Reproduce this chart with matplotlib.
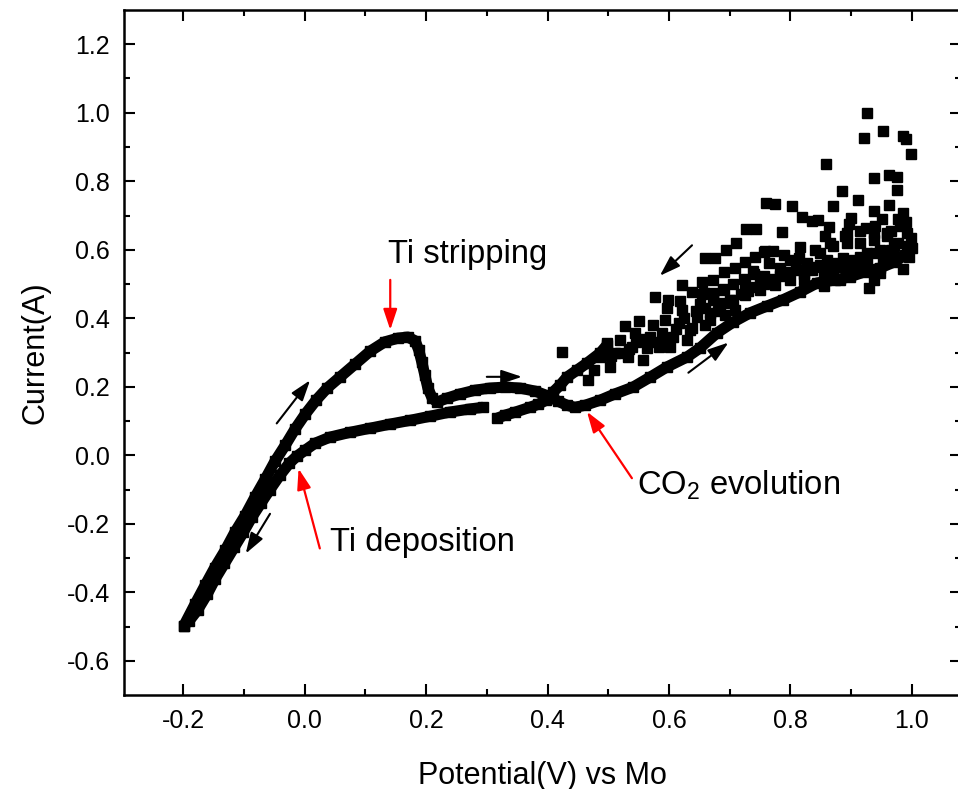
import matplotlib
matplotlib.use("Agg")
import matplotlib.pyplot as plt

plt.rcParams['font.family'] = ['Liberation Sans', 'DejaVu Sans']
plt.rcParams['mathtext.default'] = 'regular'

# first cathodic sweep (lower curve, 0.29 V -> -0.2 V)
cath1_v = [0.294, 0.272, 0.239, 0.207, 0.174, 0.141, 0.108, 0.075, 0.042, 0.017,
           0.001, -0.013, -0.025, -0.041, -0.057, -0.072, -0.087, -0.101, -0.116,
           -0.132, -0.147, -0.160, -0.176, -0.190, -0.199]
cath1_i = [0.140, 0.135, 0.126, 0.114, 0.102, 0.091, 0.079, 0.067, 0.053, 0.035,
           0.015, -0.003, -0.023, -0.059, -0.100, -0.140, -0.181, -0.225, -0.269,
           -0.316, -0.360, -0.404, -0.451, -0.483, -0.498]

# anodic sweep (-0.2 V -> 1.0 V)
anod_v = [-0.199, -0.180, -0.164, -0.148, -0.131, -0.115, -0.098, -0.082, -0.065,
          -0.049, -0.032, -0.016, 0.001, 0.019, 0.037, 0.058, 0.083, 0.108, 0.132,
          0.154, 0.170, 0.182, 0.188, 0.193, 0.198, 0.203, 0.210, 0.218, 0.235,
          0.256, 0.281, 0.305, 0.330, 0.355, 0.380, 0.401, 0.417, 0.432, 0.445,
          0.462, 0.487, 0.511, 0.541, 0.569, 0.597, 0.630, 0.651, 0.679, 0.706,
          0.734, 0.762, 0.788, 0.816, 0.844, 0.874, 0.898, 0.923, 0.948, 0.972,
          0.989, 1.001]
anod_i = [-0.498, -0.433, -0.380, -0.328, -0.278, -0.225, -0.176, -0.123, -0.070,
          -0.018, 0.029, 0.076, 0.120, 0.161, 0.196, 0.228, 0.266, 0.304, 0.331,
          0.342, 0.345, 0.334, 0.307, 0.272, 0.234, 0.196, 0.167, 0.155, 0.167,
          0.179, 0.190, 0.196, 0.199, 0.196, 0.187, 0.173, 0.158, 0.146, 0.140,
          0.146, 0.161, 0.179, 0.199, 0.228, 0.258, 0.287, 0.313, 0.357, 0.389,
          0.416, 0.436, 0.454, 0.477, 0.503, 0.512, 0.521, 0.536, 0.547, 0.565,
          0.585, 0.606]

# tail of the return sweep (0.5 V -> 0.32 V)
cath2_v = [0.498, 0.487, 0.465, 0.449, 0.432, 0.421, 0.409, 0.398, 0.385, 0.371,
           0.347, 0.330, 0.317]
cath2_i = [0.322, 0.299, 0.269, 0.249, 0.228, 0.205, 0.184, 0.161, 0.149, 0.140,
           0.126, 0.117, 0.108]

# noisy return sweep points (1.0 V -> 0.5 V)
noisy_v = [0.498, 0.487, 0.476, 0.466, 0.528, 0.520, 0.511, 0.503, 0.551, 0.544,
           0.539, 0.533, 0.574, 0.569, 0.564, 0.557, 0.597, 0.594, 0.588, 0.583,
           0.621, 0.616, 0.607, 0.602, 0.651, 0.646, 0.638, 0.630, 0.673, 0.668,
           0.660, 0.577, 0.599, 0.618, 0.621, 0.638, 0.654, 0.673, 0.657, 0.673,
           0.690, 0.706, 0.691, 0.709, 0.726, 0.739, 0.660, 0.676, 0.694, 0.710,
           0.742, 0.758, 0.772, 0.727, 0.743, 0.787, 0.760, 0.775, 0.803, 0.819,
           0.835, 0.845, 0.859, 0.871, 0.885, 0.912, 0.926, 0.922, 0.952, 0.986,
           0.990, 0.999, 0.937, 0.963, 0.975, 0.976, 0.963, 0.938, 0.986, 0.900,
           0.897, 0.951, 0.977, 0.863, 0.924, 0.857, 0.894, 0.998, 0.816, 0.757,
           0.800, 0.783, 0.756, 0.723, 0.985, 0.929, 0.689, 0.655, 0.672, 0.981,
           0.992, 0.995, 0.948, 0.937, 0.915, 0.904, 0.887, 0.871, 0.855, 0.838,
           0.849, 0.871, 0.893, 0.915, 0.937, 0.959, 0.970, 0.948, 0.926, 0.904,
           0.882, 0.855, 0.822, 0.827, 0.860, 0.964, 0.975, 0.992, 0.959, 0.937,
           0.701, 0.726, 0.750, 0.775, 0.799, 0.791, 0.816, 0.750, 0.726, 0.684,
           0.709, 0.693, 0.668, 0.635, 0.424,
           0.705, 0.718, 0.731, 0.744, 0.757, 0.770, 0.783, 0.796, 0.809, 0.822,
           0.835, 0.848, 0.861, 0.874, 0.887, 0.900, 0.913, 0.926, 0.939, 0.952,
           0.965, 0.978, 0.740, 0.765, 0.790, 0.815, 0.840, 0.865, 0.890, 0.915,
           0.940, 0.965, 0.990, 0.680, 0.690, 0.660, 0.645, 0.625, 0.612, 0.590,
           0.575, 0.560, 0.545, 0.535, 0.520, 0.505]
noisy_i = [0.327, 0.288, 0.249, 0.219, 0.378, 0.337, 0.298, 0.258, 0.393, 0.356,
           0.317, 0.288, 0.380, 0.346, 0.312, 0.278, 0.429, 0.395, 0.356, 0.317,
           0.424, 0.385, 0.346, 0.317, 0.441, 0.405, 0.371, 0.337, 0.454, 0.415,
           0.380, 0.463, 0.454, 0.451, 0.498, 0.476, 0.507, 0.512, 0.473, 0.470,
           0.485, 0.500, 0.534, 0.548, 0.563, 0.538, 0.577, 0.577, 0.600, 0.620,
           0.580, 0.595, 0.595, 0.661, 0.661, 0.652, 0.737, 0.735, 0.727, 0.696,
           0.683, 0.686, 0.849, 0.727, 0.771, 0.744, 0.998, 0.925, 0.948, 0.932,
           0.922, 0.881, 0.809, 0.819, 0.812, 0.775, 0.732, 0.712, 0.707, 0.693,
           0.676, 0.691, 0.691, 0.665, 0.663, 0.641, 0.649, 0.634, 0.608, 0.594,
           0.571, 0.546, 0.522, 0.515, 0.543, 0.488, 0.483, 0.471, 0.473, 0.668,
           0.610, 0.580, 0.532, 0.512, 0.580, 0.571, 0.551, 0.532, 0.522, 0.551,
           0.590, 0.610, 0.620, 0.620, 0.629, 0.639, 0.610, 0.600, 0.590, 0.551,
           0.512, 0.493, 0.512, 0.561, 0.571, 0.571, 0.580, 0.649, 0.649, 0.649,
           0.454, 0.468, 0.483, 0.498, 0.512, 0.527, 0.541, 0.512, 0.498, 0.439,
           0.424, 0.410, 0.395, 0.366, 0.302,
           0.452, 0.470, 0.480, 0.492, 0.500, 0.515, 0.522, 0.535, 0.545, 0.530,
           0.540, 0.555, 0.545, 0.560, 0.575, 0.560, 0.550, 0.570, 0.590, 0.575,
           0.600, 0.620, 0.530, 0.560, 0.585, 0.575, 0.600, 0.620, 0.640, 0.655,
           0.670, 0.655, 0.680, 0.420, 0.445, 0.430, 0.420, 0.400, 0.370, 0.340,
           0.330, 0.340, 0.330, 0.310, 0.300, 0.290]

# sweep direction arrows: (tail, head)
dir_arrows = [((-0.046, 0.093), (0.009, 0.219)),
              ((-0.057, -0.171), (-0.097, -0.287)),
              ((0.300, 0.229), (0.358, 0.229)),
              ((0.638, 0.613), (0.585, 0.524)),
              ((0.632, 0.241), (0.698, 0.329))]

# labels: text, text position, arrow tail, arrow tip
labels = ["Ti stripping", "Ti deposition", "CO$_2$ evolution"]
label_xy = [(0.137, 0.585), (0.042, -0.255), (0.547, -0.088)]
label_tail = [(0.141, 0.512), (0.025, -0.272), (0.539, -0.067)]
label_tip = [(0.141, 0.366), (-0.010, -0.039), (0.465, 0.127)]


def main():
    fig = plt.figure(figsize=(9.58, 7.89), dpi=100)
    ax = fig.add_axes([124 / 958, 94 / 789, 837 / 958, 685 / 789])

    for v, i in [(cath1_v, cath1_i), (anod_v, anod_i), (cath2_v, cath2_i)]:
        ax.plot(v, i, color='black', lw=8, marker='s', ms=7.5,
                solid_joinstyle='round', solid_capstyle='butt')
    ax.plot(noisy_v, noisy_i, 's', color='black', ms=6.8, linestyle='none')

    for tail, head in dir_arrows:
        ax.annotate('', xy=head, xytext=tail,
                    arrowprops=dict(arrowstyle='-|>,head_length=0.9,head_width=0.3',
                                    color='black', lw=1.5, mutation_scale=14,
                                    shrinkA=0, shrinkB=0))

    for txt, pos, tail, tip in zip(labels, label_xy, label_tail, label_tip):
        ax.text(pos[0], pos[1], txt, fontsize=23.6, ha='left', va='center')
        ax.annotate('', xy=tip, xytext=tail,
                    arrowprops=dict(arrowstyle='-|>,head_length=0.9,head_width=0.3',
                                    color='red', lw=1.6, mutation_scale=14,
                                    shrinkA=0, shrinkB=0))

    ax.set_xlim(-0.2975, 1.081)
    ax.set_ylim(-0.7, 1.3)
    ax.set_xticks([-0.2, 0.0, 0.2, 0.4, 0.6, 0.8, 1.0])
    ax.set_yticks([-0.6, -0.4, -0.2, 0.0, 0.2, 0.4, 0.6, 0.8, 1.0, 1.2])
    ax.set_xticks([-0.1, 0.1, 0.3, 0.5, 0.7, 0.9], minor=True)
    ax.set_yticks([-0.5, -0.3, -0.1, 0.1, 0.3, 0.5, 0.7, 0.9, 1.1], minor=True)
    ax.xaxis.set_major_formatter(matplotlib.ticker.FormatStrFormatter('%.1f'))
    ax.yaxis.set_major_formatter(matplotlib.ticker.FormatStrFormatter('%.1f'))
    ax.tick_params(which='both', direction='in', top=True, right=True,
                   width=1.5, labelsize=18, pad=10)
    ax.tick_params(which='major', length=8)
    ax.tick_params(which='minor', length=4.5)
    for s in ax.spines.values():
        s.set_linewidth(1.8)
    ax.spines['right'].set_visible(False)

    ax.set_xlabel("Potential(V) vs Mo", fontsize=22, labelpad=20)
    ax.set_ylabel("Current(A)", fontsize=22, labelpad=12)

    fig.savefig("out.png", dpi=100)


if __name__ == "__main__":
    main()
